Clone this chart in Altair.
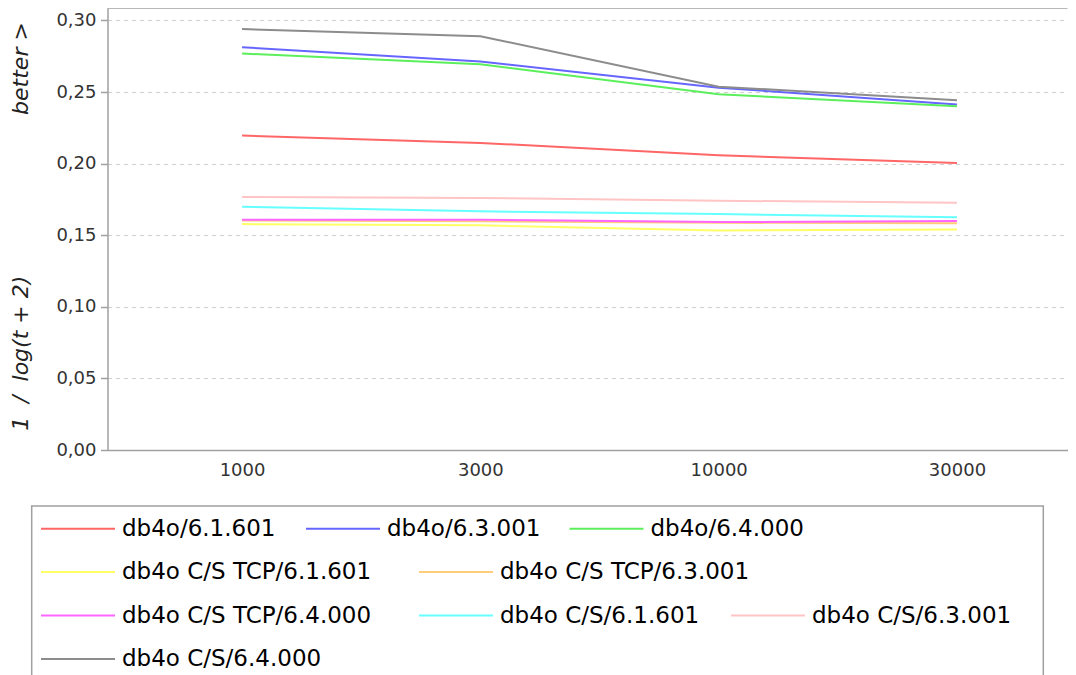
import altair as alt
import pandas as pd

sizes = ["1000", "3000", "10000", "30000"]

series = [
    "db4o/6.1.601",
    "db4o/6.3.001",
    "db4o/6.4.000",
    "db4o C/S TCP/6.1.601",
    "db4o C/S TCP/6.3.001",
    "db4o C/S TCP/6.4.000",
    "db4o C/S/6.1.601",
    "db4o C/S/6.3.001",
    "db4o C/S/6.4.000",
]
colors = ["#ff6666", "#6666ff", "#5cef5c", "#ffff66", "#ffcc77",
          "#ff66ff", "#66ffff", "#ffc4c4", "#8c8c8c"]

v_611 = [0.2196, 0.2145, 0.2058, 0.2005]
v_63 = [0.2813, 0.2713, 0.2531, 0.2413]
v_64 = [0.2769, 0.2695, 0.2485, 0.2401]
v_tcp_611 = [0.1578, 0.1569, 0.1534, 0.1540]
v_tcp_63 = [0.1603, 0.1598, 0.1587, 0.1584]
v_tcp_64 = [0.1608, 0.1608, 0.1592, 0.1599]
v_cs_611 = [0.1699, 0.1667, 0.1648, 0.1625]
v_cs_63 = [0.1767, 0.1760, 0.1741, 0.1727]
v_cs_64 = [0.2940, 0.2890, 0.2538, 0.2443]
values = [v_611, v_63, v_64, v_tcp_611, v_tcp_63, v_tcp_64, v_cs_611, v_cs_63, v_cs_64]

y_ticks = [0.0, 0.05, 0.10, 0.15, 0.20, 0.25, 0.30]

rows = []
for name, vals in zip(series, values):
    for s, v in zip(sizes, vals):
        rows.append({"series": name, "n": s, "value": v})
df = pd.DataFrame(rows)

# legend layout (flowing rows, as in the reference)
leg_x = [-67.5, 197.5, 461, -67.5, 310.5, -67.5, 310.5, 622.5, -67.5]
row_y = [482.7, 526, 569.5, 613]
leg_row = [0, 0, 0, 1, 1, 2, 2, 2, 3]

W = 960
H = 442
FONT = "DejaVu Sans"
title_text = ("1\u00a0\u00a0/\u00a0\u00a0log(t + 2)" + "\u00a0" * 23 + "better >")

x_enc = alt.X(
    "n:O", sort=sizes,
    scale=alt.Scale(type="point", padding=0.5143, align=0.549),
    axis=alt.Axis(title=None, labelAngle=0, ticks=False, grid=False,
                  labelPadding=11, labelFontSize=18, labelFont=FONT,
                  labelColor="#333333", domainColor="#a0a0a0", domainWidth=1.5),
)
y_enc = alt.Y(
    "value:Q",
    scale=alt.Scale(domain=[0, 0.30873], nice=False, zero=True),
    axis=alt.Axis(
        title=title_text, values=y_ticks,
        labelExpr="replace(format(datum.value, '.2f'), '.', ',')",
        labelFontSize=18, labelFont=FONT, labelColor="#333333", labelPadding=4.5,
        tickSize=7, tickColor="#a0a0a0", tickWidth=1.5,
        domainColor="#a0a0a0", domainWidth=1.5,
        grid=True, gridColor="#d0d0d0", gridDash=[4, 4], gridWidth=1,
        titleFont=FONT, titleFontSize=22, titleFontStyle="italic",
        titleFontWeight="normal", titleColor="#222222", titlePadding=23,
        titleY=218, titleAlign="center",
    ),
)

one = alt.Data(values=[{"b": 1}])

top_border = alt.Chart(one).mark_rule(stroke="#a0a0a0", strokeWidth=1.5).encode(
    x=alt.value(0), x2=alt.value(W), y=alt.value(0)
)

box = alt.Chart(one).mark_rect(
    fillOpacity=0, stroke="#a0a0a0", strokeWidth=1.5
).encode(
    x=alt.value(-75.8), x2=alt.value(935.8),
    y=alt.value(498), y2=alt.value(692),
)

layers = [box, top_border]
for i, name in enumerate(series):
    layer = alt.Chart(df).transform_filter(
        alt.datum.series == name
    ).mark_line(strokeWidth=2).encode(
        x=x_enc, y=y_enc,
        color=alt.Color(
            "series:N",
            scale=alt.Scale(domain=[name], range=[colors[i]]),
            legend=alt.Legend(
                orient="none", legendX=leg_x[i], legendY=row_y[leg_row[i]],
                title=None, direction="horizontal", columns=1,
                symbolType="stroke", symbolSize=5476, symbolStrokeWidth=2,
                symbolStrokeColor=colors[i],
                labelFont=FONT, labelFontSize=23, labelColor="black",
                labelOffset=6, labelLimit=500, padding=0,
            ),
        ),
    )
    layers.append(layer)

chart = alt.layer(*layers).resolve_scale(color="independent").properties(
    width=W, height=H,
    autosize=alt.AutoSizeParams(type="none"),
    padding={"left": 99.5, "top": 0, "right": 0, "bottom": 252},
).configure_view(
    stroke=None
)

chart.save("out.html", embed_options={"renderer": "svg", "actions": False})
